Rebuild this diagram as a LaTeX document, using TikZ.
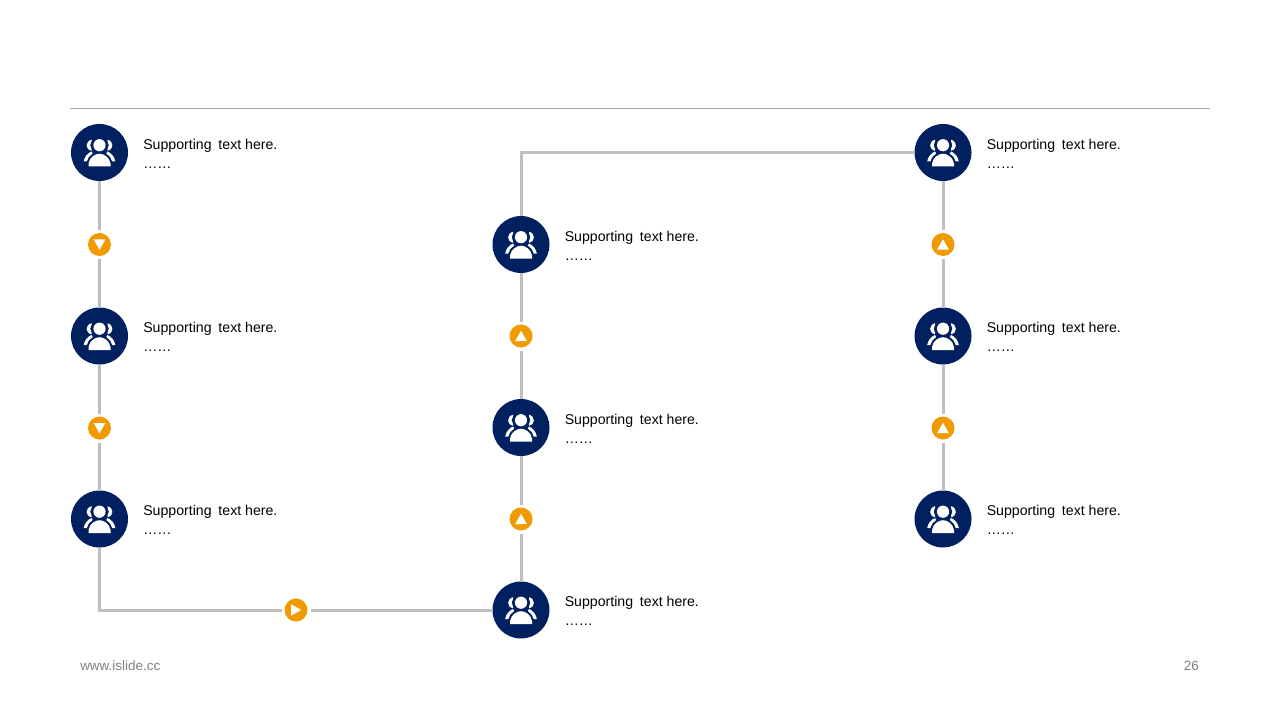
\documentclass[tikz,border=0pt]{standalone}
\usepackage{fontspec}
\setmainfont{Liberation Sans}
\definecolor{navy}{HTML}{002060}
\definecolor{amber}{HTML}{F09A00}
\definecolor{linegray}{HTML}{BFBFBF}
\definecolor{rulegray}{HTML}{A6A6A6}
\definecolor{footgray}{HTML}{7F7F7F}
\tikzset{
  person/.style={circle,fill=navy,draw=none,minimum size=42.75pt,inner sep=0pt,outer sep=0pt},
  marker/.style={circle,fill=amber,draw=none,minimum size=17.25pt,inner sep=0pt,outer sep=2.25pt},
  link/.style={draw=linegray,line width=2.25pt},
  caption/.style={anchor=north west,align=left,inner sep=0pt,font=\fontsize{10.6}{14.25}\selectfont,text=black},
  foot/.style={font=\fontsize{10.1}{12}\selectfont,text=footgray,inner sep=0pt},
  people/.pic={
    \fill[white] (0,-7.3) circle[radius=6.1];
    \fill[white] (-11,14) -- (11,14) -- (11,11) .. controls (10,4.5) and (4,1.2) .. (0,1.2) .. controls (-4,1.2) and (-10,4.5) .. (-11,11) -- cycle;
    \fill[white] (-8,-12.8) .. controls (-14.5,-11) and (-14.5,-3) .. (-8,-1.8) -- (-8,-3.4) .. controls (-9.8,-5.5) and (-9.8,-9) .. (-8,-11.2) -- cycle;
    \fill[white] (8,-12.8) .. controls (14.5,-11) and (14.5,-3) .. (8,-1.8) -- (8,-3.4) .. controls (9.8,-5.5) and (9.8,-9) .. (8,-11.2) -- cycle;
    \fill[white] (-15.8,9) .. controls (-15.3,4.5) and (-11.5,0.2) .. (-8,-1) -- (-6.8,1) .. controls (-9.8,3) and (-12.2,5.5) .. (-12.7,9) -- cycle;
    \fill[white] (15.8,9) .. controls (15.3,4.5) and (11.5,0.2) .. (8,-1) -- (6.8,1) .. controls (9.8,3) and (12.2,5.5) .. (12.7,9) -- cycle;
  },
  wedge/.pic={\fill[white,line join=round] (0,-5.3) -- (5.8,5) -- (-5.8,5) -- cycle;}
}
\newcommand{\captiontext}{Supporting\hspace{2.2pt} text here.\\……}
\begin{document}
\begin{tikzpicture}[x=0.75pt,y=-0.75pt]
\useasboundingbox (0,0) rectangle (1280,720);
\coordinate (ruleL) at (70,108.5);
\coordinate (ruleR) at (1210,108.5);
\draw[rulegray,line width=0.75pt] (ruleL) -- (ruleR);
% people
\foreach \n/\x/\y in {n1/99.5/152.5,n2/99.5/336,n3/99.5/519,n4/521/610,n5/521/427.5,n6/521/244.5,n7/943/152.5,n8/943/336,n9/943/519}{
  \node[person] (\n) at (\x,\y) {};
  \node[caption] (\n t) at (\x+43.5,\y-14) {\captiontext};
}
% markers
\foreach \n/\x/\y in {a1/99.5/244.5,a2/99.5/428,a3/296/610,a4/521/519,a5/521/336,a6/943/428,a7/943/244.5}{
  \node[marker] (\n) at (\x,\y) {};
}
% connectors
\draw[link] (n1) -- (a1);
\draw[link] (a1) -- (n2);
\draw[link] (n2) -- (a2);
\draw[link] (a2) -- (n3);
\draw[link] (n3.south) |- (a3.west);
\draw[link] (a3) -- (n4);
\draw[link] (n4) -- (a4);
\draw[link] (a4) -- (n5);
\draw[link] (n5) -- (a5);
\draw[link] (a5) -- (n6);
\draw[link] (n6.north) |- (n7.west);
\draw[link] (n7) -- (a7);
\draw[link] (a7) -- (n8);
\draw[link] (n8) -- (a6);
\draw[link] (a6) -- (n9);
% icons
\foreach \n in {n1,n2,n3,n4,n5,n6,n7,n8,n9}{ \pic at (\n) {people}; }
\pic[rotate=180] at (a1) {wedge};
\pic[rotate=180] at (a2) {wedge};
\pic[rotate=-90] at (a3) {wedge};
\foreach \n in {a4,a5,a6,a7}{ \pic at (\n) {wedge}; }
% footer
\node[foot,anchor=west] (site) at (80,666) {www.islide.cc};
\node[foot,anchor=east] (page) at (1199,666) {26};
\end{tikzpicture}
\end{document}
